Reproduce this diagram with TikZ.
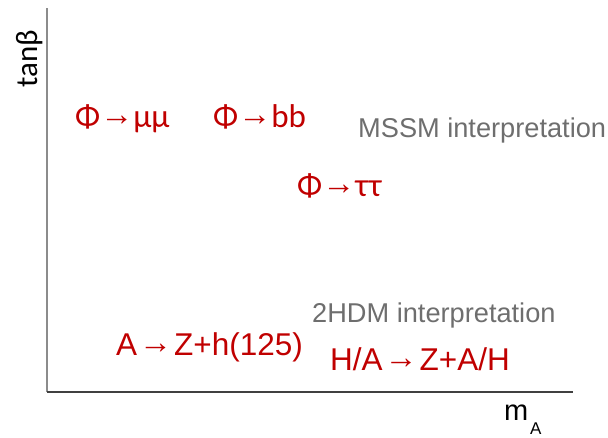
\documentclass[tikz,border=0pt]{standalone}
\usepackage{fontspec}
\setmainfont{Liberation Sans}
\newfontfamily\calfont{Carlito}
\usepackage{tikz}
\usetikzlibrary{positioning}
\definecolor{decred}{RGB}{192,0,0}
\definecolor{interpgray}{RGB}{110,110,110}
\newcommand{\decarrow}[1][2pt]{\hspace{#1}\raisebox{2pt}{\rmfamily\fontsize{33}{33}\selectfont →}\hspace{#1}}

\begin{document}
\begin{tikzpicture}[x=1pt,y=-1pt,
            lab/.style={inner sep=0,anchor=base west},
            decay/.style={lab,text=decred,font=\fontsize{31.5}{32}\selectfont},
            greekdecay/.style={lab,text=decred,font=\calfont\fontsize{33}{34}\selectfont},
            interp/.style={lab,text=interpgray,font=\fontsize{27.2}{28}\selectfont},
            axislab/.style={lab,text=black,font=\fontsize{29}{30}\selectfont}
          ]
          \useasboundingbox (0,0) rectangle (608,437);
          %axes
          \coordinate (ytop) at (47,8);
          \coordinate (origin) at (47,392);
          \coordinate (xend) at (573,392);
          \draw[gray!90,line width=1.3pt] (ytop) -- (origin);
          \draw[black!75,line width=1.3pt] (origin) -- (xend);

          %axis labels
          \node[axislab,rotate=90,font=\calfont\fontsize{31}{32}\selectfont] (tanb) at (37,88) {tanβ};
          \node[axislab] (mA) at (504,420) {m};
          \node[lab,font=\fontsize{17}{18}\selectfont] (mAsub) at (530,434) {A};

          %MSSM
          \node[greekdecay] (mumu) at (75,127) {Φ\decarrow[0pt]μμ};
          \node[greekdecay] (bb) at (213,127) {Φ\decarrow[0pt]bb};
          \node[interp] (mssm) at (358,137) {MSSM interpretation};
          \node[greekdecay] (tautau) at (297,196) {Φ\decarrow[0pt]ττ};

          %2HDM
          \node[interp] (thdm) at (312,322) {2HDM interpretation};
          \node[decay] (AZh) at (116,355) {A\decarrow Z+h(125)};
          \node[decay] (HZA) at (330,370) {H/A\decarrow Z+A/H};
\end{tikzpicture}
\end{document}
